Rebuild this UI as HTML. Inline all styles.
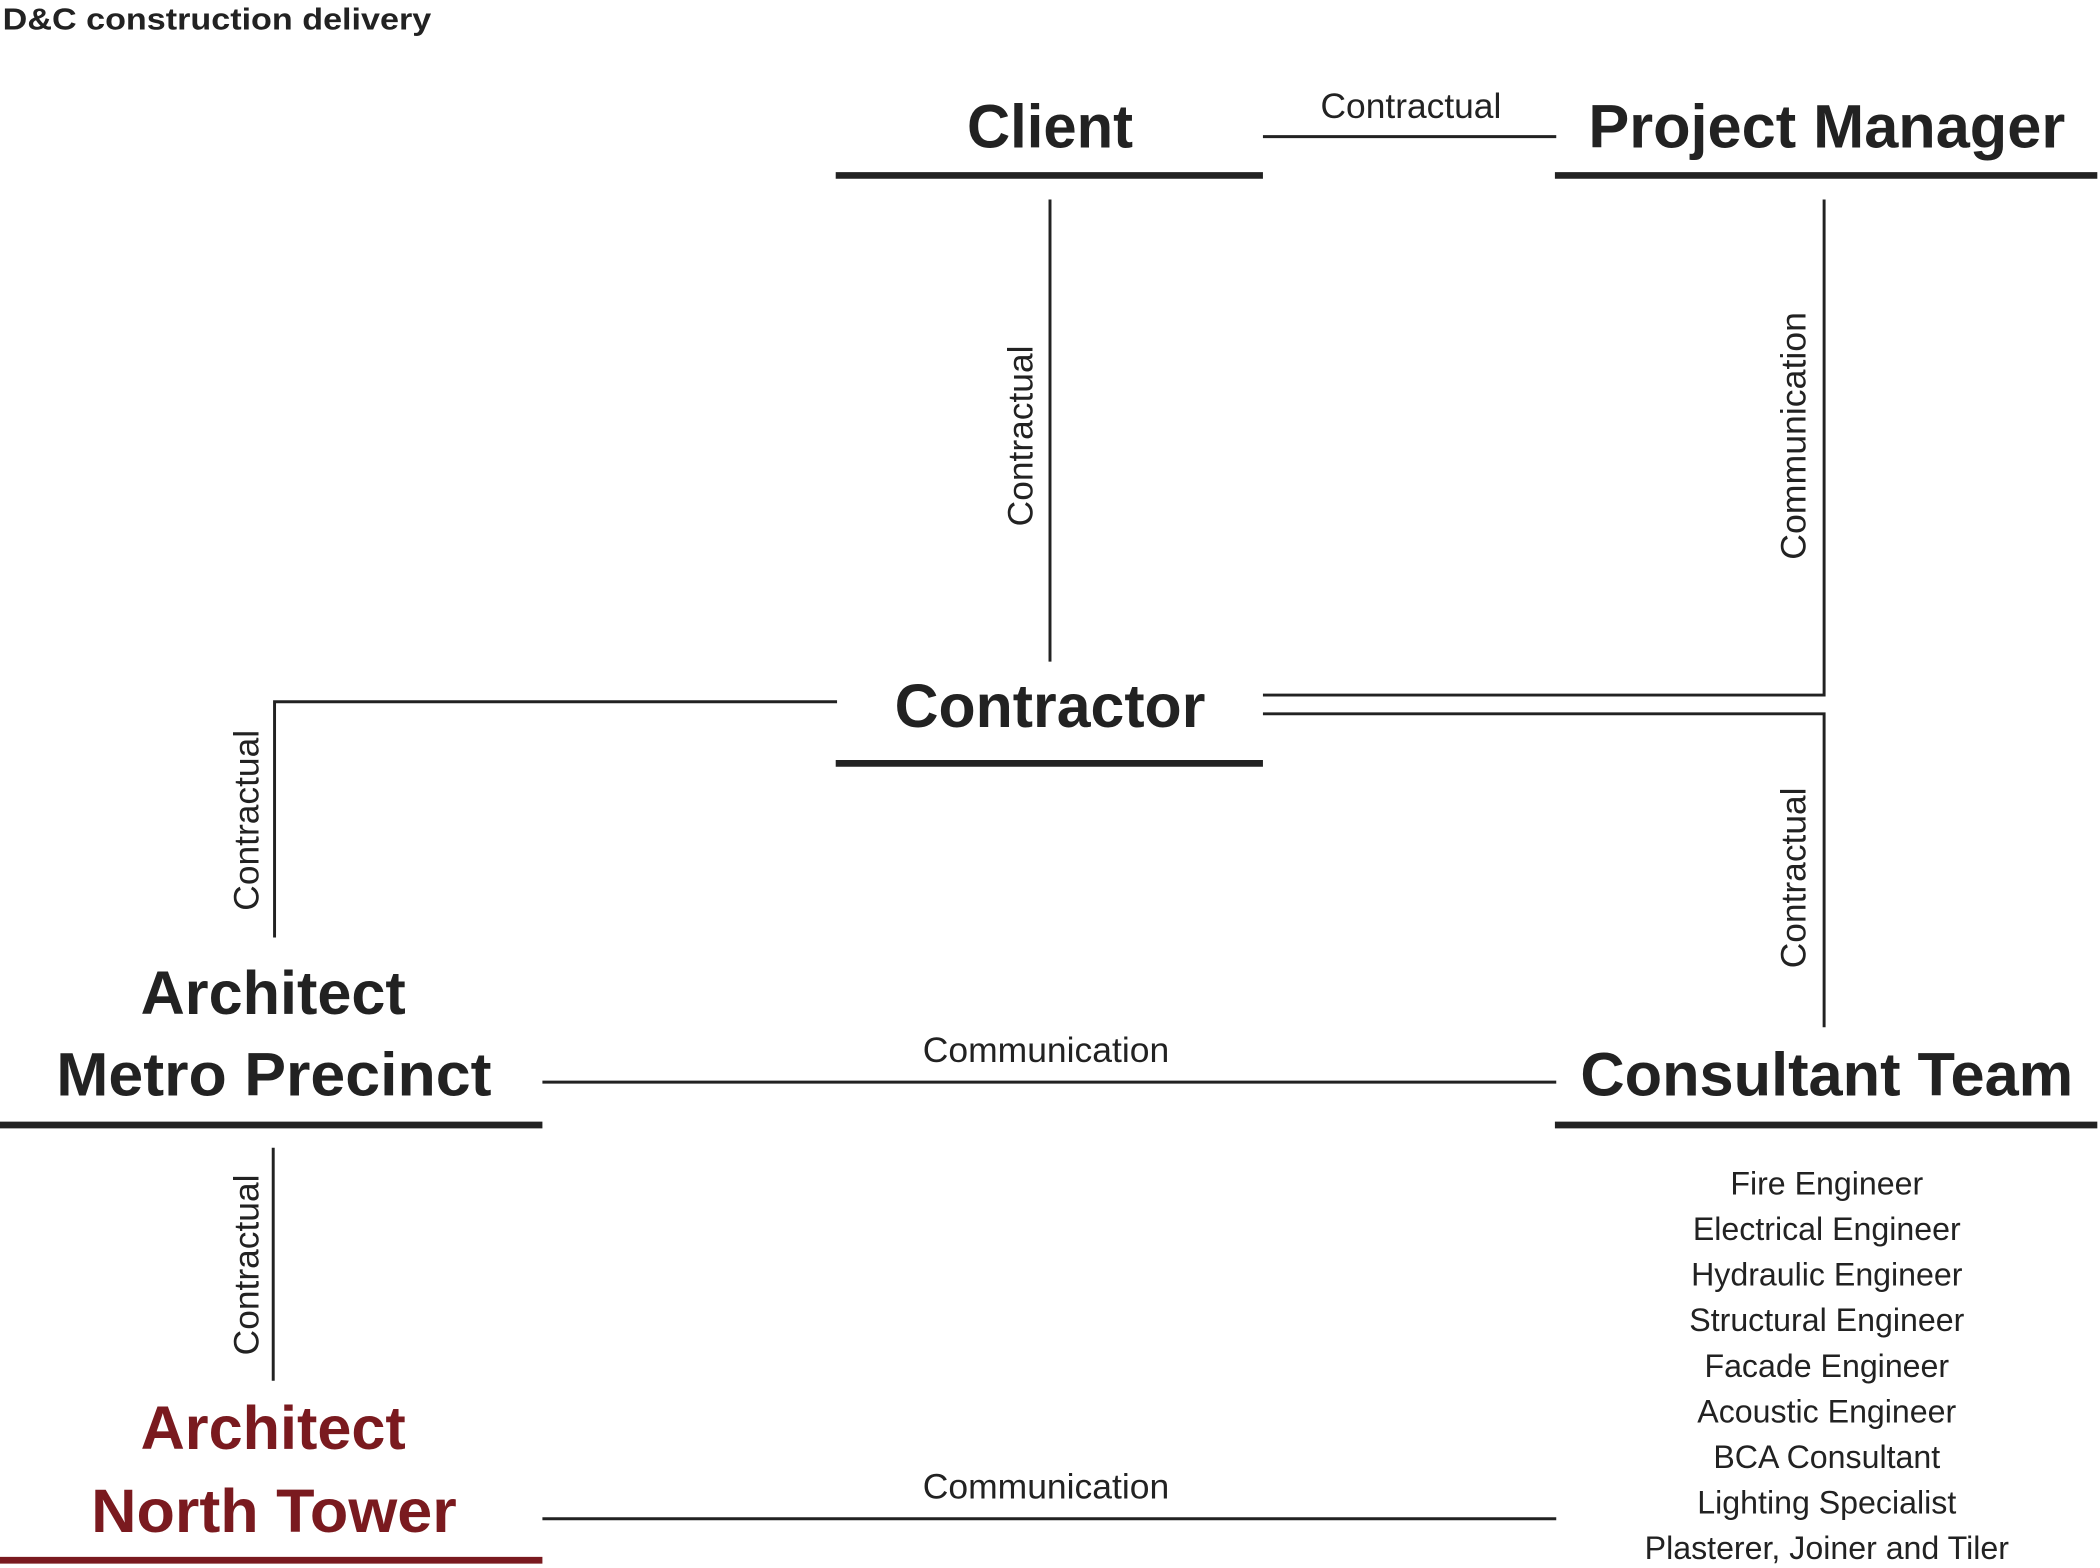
<!DOCTYPE html>
<html><head><meta charset="utf-8"><style>html,body{margin:0;padding:0;background:#fff}svg{display:block}</style></head><body>
<svg width="2100" height="1568" viewBox="0 0 1568 1170.8" preserveAspectRatio="none" xmlns="http://www.w3.org/2000/svg" font-family="'Liberation Sans', sans-serif">
<g fill="#222">
<text x="2" y="22" font-size="23" font-weight="bold" textLength="320" lengthAdjust="spacingAndGlyphs">D&amp;C construction delivery</text>
<text x="722" y="110" font-size="46" font-weight="bold" textLength="124" lengthAdjust="spacingAndGlyphs">Client</text>
<text x="1186" y="110" font-size="46" font-weight="bold" textLength="356" lengthAdjust="spacingAndGlyphs">Project Manager</text>
<text x="668" y="543" font-size="46" font-weight="bold" textLength="232" lengthAdjust="spacingAndGlyphs">Contractor</text>
<text x="105" y="757" font-size="46" font-weight="bold" textLength="198" lengthAdjust="spacingAndGlyphs">Architect</text>
<text x="42" y="818" font-size="46" font-weight="bold" textLength="325" lengthAdjust="spacingAndGlyphs">Metro Precinct</text>
<text x="1180" y="818" font-size="46" font-weight="bold" textLength="368" lengthAdjust="spacingAndGlyphs">Consultant Team</text>
</g>
<g fill="#7a1a1f">
<text x="105" y="1082" font-size="46" font-weight="bold" textLength="198" lengthAdjust="spacingAndGlyphs">Architect</text>
<text x="68" y="1144" font-size="46" font-weight="bold" textLength="273" lengthAdjust="spacingAndGlyphs">North Tower</text>
</g>
<g fill="#222" font-size="26">
<text x="986" y="88" textLength="135" lengthAdjust="spacingAndGlyphs">Contractual</text>
<text x="689" y="793" textLength="184" lengthAdjust="spacingAndGlyphs">Communication</text>
<text x="689" y="1119" textLength="184" lengthAdjust="spacingAndGlyphs">Communication</text>
<text transform="translate(771,393) rotate(-90)" textLength="135" lengthAdjust="spacingAndGlyphs">Contractual</text>
<text transform="translate(1348,418) rotate(-90)" textLength="185" lengthAdjust="spacingAndGlyphs">Communication</text>
<text transform="translate(1348,723) rotate(-90)" textLength="135" lengthAdjust="spacingAndGlyphs">Contractual</text>
<text transform="translate(193,680) rotate(-90)" textLength="135" lengthAdjust="spacingAndGlyphs">Contractual</text>
<text transform="translate(193,1012) rotate(-90)" textLength="135" lengthAdjust="spacingAndGlyphs">Contractual</text>
</g>
<g fill="#222" font-size="24" text-anchor="middle">
<text x="1364" y="892">Fire Engineer</text>
<text x="1364" y="926">Electrical Engineer</text>
<text x="1364" y="960">Hydraulic Engineer</text>
<text x="1364" y="994">Structural Engineer</text>
<text x="1364" y="1028">Facade Engineer</text>
<text x="1364" y="1062">Acoustic Engineer</text>
<text x="1364" y="1096">BCA Consultant</text>
<text x="1364" y="1130">Lighting Specialist</text>
<text x="1364" y="1164">Plasterer, Joiner and Tiler</text>
</g>
<g stroke="#222" stroke-width="5" fill="none">
<line x1="624" y1="131" x2="943" y2="131"/>
<line x1="1161" y1="131" x2="1566" y2="131"/>
<line x1="624" y1="570" x2="943" y2="570"/>
<line x1="0" y1="840" x2="405" y2="840"/>
<line x1="1161" y1="840" x2="1566" y2="840"/>
</g>
<line x1="0" y1="1165" x2="405" y2="1165" stroke="#7a1a1f" stroke-width="5"/>
<g stroke="#222" stroke-width="2.2" fill="none">
<line x1="943" y1="102" x2="1162" y2="102"/>
<line x1="784" y1="149" x2="784" y2="494"/>
<polyline points="1362,149 1362,519 943,519"/>
<polyline points="943,533 1362,533 1362,767"/>
<polyline points="625,524 205,524 205,700"/>
<line x1="405" y1="808" x2="1162" y2="808"/>
<line x1="204" y1="857" x2="204" y2="1031"/>
<line x1="405" y1="1134" x2="1162" y2="1134"/>
</g>
</svg>
</body></html>
